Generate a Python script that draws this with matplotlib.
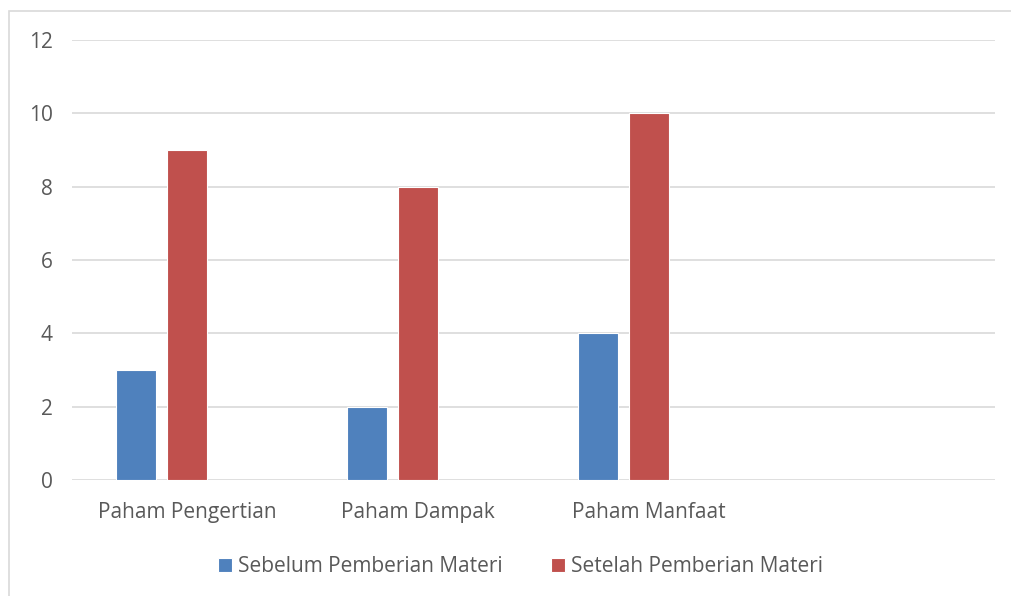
import matplotlib
matplotlib.use("Agg")
import matplotlib.pyplot as plt
from matplotlib.patches import Rectangle
import numpy as np

categories = ["Paham Pengertian", "Paham Dampak", "Paham Manfaat", ""]
sebelum = [3, 2, 4, None]
setelah = [9, 8, 10, None]
series_names = ["Sebelum Pemberian Materi", "Setelah Pemberian Materi"]
yticks = [0, 2, 4, 6, 8, 10, 12]

plt.rcParams['font.family'] = ['Open Sans', 'DejaVu Sans']

fig = plt.figure(figsize=(10.11, 5.96), dpi=100)
ax = fig.add_axes([72/1011, 1-480/596, (995-72)/1011, (480-40)/596])

# outer chart border (right/bottom run off the image)
fig.patches.append(Rectangle((9/1011, -0.05), 1.2, 1-11/596+0.05,
                             transform=fig.transFigure, fill=False,
                             edgecolor='#D9D9D9', lw=1.2))

x = np.arange(len(categories))
w = 0.173
step = 0.221
blue = [v if v is not None else 0 for v in sebelum]
red = [v if v is not None else 0 for v in setelah]
ax.bar(x - step, blue, w, color='#4F81BD', edgecolor='white', lw=0.8,
       label=series_names[0], zorder=3)
ax.bar(x, red, w, color='#C0504D', edgecolor='white', lw=0.8,
       label=series_names[1], zorder=3)

ax.set_xlim(-0.5, 3.5)
ax.set_ylim(0, 12)
ax.set_yticks(yticks)
ax.set_xticks(x)
ax.set_xticklabels(categories)
ax.grid(axis='y', color='#D9D9D9', lw=1.2, zorder=0)
for s in ax.spines.values():
    s.set_visible(False)
ax.tick_params(length=0, labelsize=15, labelcolor='#595959')
ax.tick_params(axis='x', pad=16)
ax.tick_params(axis='y', pad=14)

fig.legend(loc='center', bbox_to_anchor=(0.515, 1-567/596), ncol=2,
           frameon=False, fontsize=15, labelcolor='#595959',
           handlelength=0.67, handleheight=0.67, handletextpad=0.3,
           columnspacing=2.3)

fig.savefig("out.png", dpi=100)
